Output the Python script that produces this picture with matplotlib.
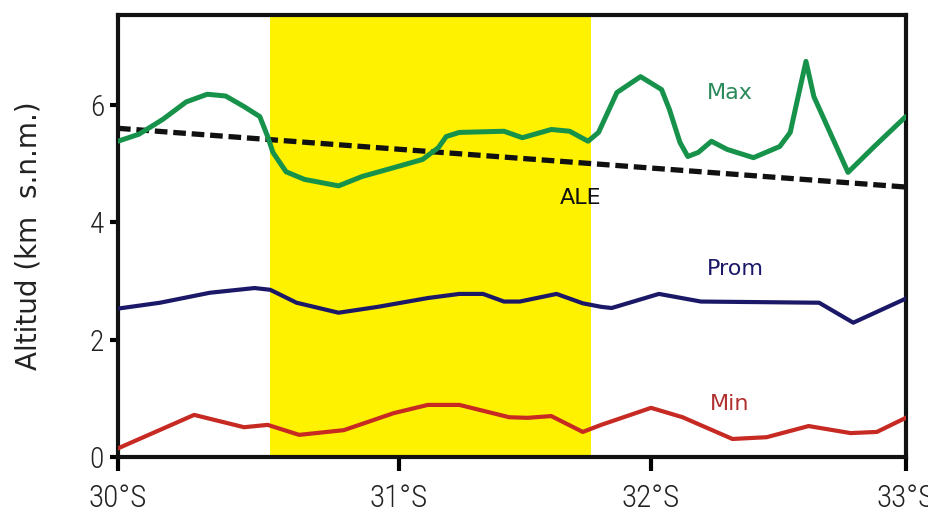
import matplotlib
matplotlib.use("Agg")
import matplotlib.pyplot as plt
from matplotlib import font_manager

# Latitude (degrees south) and altitude (km)
max_lat = [30.00, 30.08, 30.17, 30.26, 30.34, 30.41, 30.48, 30.54, 30.57, 30.59, 30.64, 30.71,
           30.84, 30.93, 31.05, 31.16, 31.22, 31.25, 31.30, 31.47, 31.54, 31.65, 31.72, 31.79,
           31.83, 31.90, 31.99, 32.07, 32.10, 32.14, 32.17, 32.21, 32.26, 32.32, 32.42, 32.52,
           32.56, 32.59, 32.62, 32.65, 32.78, 32.88, 33.00]
max_alt = [5.38, 5.50, 5.75, 6.05, 6.18, 6.15, 5.97, 5.80, 5.46, 5.19, 4.86, 4.73,
           4.62, 4.78, 4.93, 5.07, 5.27, 5.46, 5.53, 5.55, 5.44, 5.58, 5.55, 5.38,
           5.53, 6.21, 6.48, 6.26, 5.92, 5.36, 5.12, 5.19, 5.38, 5.24, 5.10, 5.29,
           5.53, 6.14, 6.74, 6.14, 4.85, 5.29, 5.80]

prom_lat = [30.00, 30.16, 30.35, 30.52, 30.58, 30.68, 30.84, 30.99, 31.18, 31.30, 31.39,
            31.47, 31.53, 31.67, 31.77, 31.84, 31.88, 32.06, 32.22, 32.67, 32.80, 33.00]
prom_alt = [2.53, 2.63, 2.80, 2.88, 2.85, 2.63, 2.46, 2.56, 2.71, 2.78, 2.78,
            2.65, 2.65, 2.78, 2.62, 2.56, 2.54, 2.78, 2.65, 2.63, 2.29, 2.70]

min_lat = [30.00, 30.29, 30.48, 30.57, 30.69, 30.86, 31.05, 31.18, 31.30, 31.49, 31.56,
           31.65, 31.77, 31.84, 32.03, 32.15, 32.34, 32.47, 32.63, 32.79, 32.89, 33.00]
min_alt = [0.15, 0.72, 0.51, 0.55, 0.38, 0.46, 0.75, 0.89, 0.89, 0.68, 0.67,
           0.70, 0.43, 0.55, 0.84, 0.68, 0.31, 0.34, 0.53, 0.41, 0.43, 0.67]

ale_lat = [30.0, 33.0]
ale_alt = [5.6, 4.6]

span_lat = [30.58, 31.80]

tick_pos = [30.0, 31.07, 32.03, 33.0]
tick_labels = ["30°S", "31°S", "32°S", "33°S"]
ytick_vals = [0, 2, 4, 6]

names = {f.name for f in font_manager.fontManager.ttflist}
narrow = 'DejaVu Sans'
for cand in ['Liberation Sans Narrow', 'DejaVu Sans Condensed', 'Roboto Condensed', 'Open Sans Condensed']:
    if cand in names:
        narrow = cand
        break
sx = 1.0 if narrow == 'DejaVu Sans' else 1.25
sy = 1.0 if narrow == 'DejaVu Sans' else 1.12
plt.rcParams['font.family'] = ['DejaVu Sans']

fig = plt.figure(figsize=(9.29, 5.16), dpi=100)
ax = fig.add_axes([0.127, 0.114, 0.848, 0.857])

ax.axvspan(span_lat[0], span_lat[1], color="#fff200", zorder=0, lw=0)

ax.plot(ale_lat, ale_alt, color="#111111", lw=3.8, ls=(0, (2.4, 1.1)), zorder=3)
ax.plot(max_lat, max_alt, color="#17924b", lw=3.6, solid_joinstyle="round", solid_capstyle="round", zorder=4)
ax.plot(prom_lat, prom_alt, color="#1c1868", lw=3.0, solid_joinstyle="round", zorder=4)
ax.plot(min_lat, min_alt, color="#c62a22", lw=3.0, solid_joinstyle="round", zorder=4)

ax.text(32.33, 6.2, "Max", color="#2a8a5a", fontsize=16, ha="center", va="center")
ax.text(31.76, 4.42, "ALE", color="#111111", fontsize=16, ha="center", va="center")
ax.text(32.35, 3.2, "Prom", color="#1c1868", fontsize=16, ha="center", va="center")
ax.text(32.33, 0.91, "Min", color="#b03030", fontsize=16, ha="center", va="center")

ax.set_xlim(30.0, 33.0)
ax.set_ylim(0, 7.53)
ax.set_xticks(tick_pos)
ax.set_xticklabels(tick_labels, fontsize=18 * sx, family=narrow, fontweight="light", color="#222222")
ax.set_yticks(ytick_vals)
ax.set_yticklabels([str(v) for v in ytick_vals], fontsize=19 * sy, family=narrow, fontweight="light", color="#222222")
ax.tick_params(axis="x", direction="out", length=10, width=3, pad=9)
ax.tick_params(axis="y", direction="out", length=6, width=3, pad=4)
for s in ax.spines.values():
    s.set_linewidth(3)
    s.set_color("#111111")
ax.set_ylabel("Altitud (km  s.n.m.)", fontsize=20, labelpad=34, color="#222222")

fig.savefig("out.png", dpi=100)
